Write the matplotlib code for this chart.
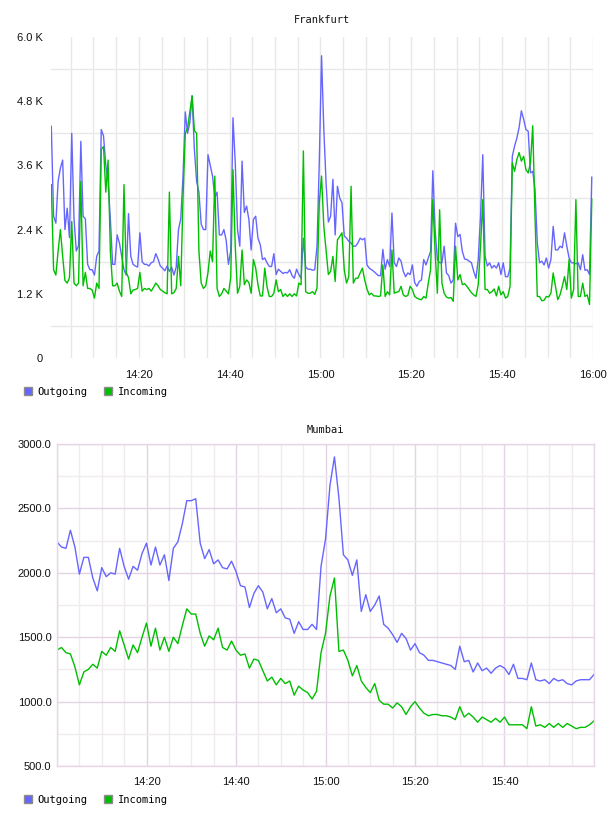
import matplotlib
matplotlib.use("Agg")
import matplotlib.pyplot as plt
import matplotlib.dates as mdates
from matplotlib.patches import Patch
from matplotlib.ticker import FixedLocator, FuncFormatter
import pandas as pd

# ---------------- data ----------------
frankfurt_title = "Frankfurt"
mumbai_title = "Mumbai"
series_names = ["Outgoing", "Incoming"]

# Frankfurt, values in thousands, 30 s samples from 14:00:44
frankfurt_outgoing = [
    4.33, 2.65, 2.52, 3.3, 3.55, 3.7, 2.4, 2.8, 2.25, 4.2,
    2.6, 2.0, 2.1, 4.05, 2.65, 2.6, 1.75, 1.65, 1.65, 1.55,
    1.9, 2.0, 4.27, 4.15, 3.6, 3.3, 2.6, 1.75, 1.75, 2.3,
    2.15, 1.9, 1.65, 1.55, 2.7, 1.9, 1.75, 1.72, 1.7, 2.34,
    1.8, 1.75, 1.75, 1.72, 1.78, 1.8, 1.95, 1.85, 1.72, 1.68,
    1.63, 1.72, 1.62, 1.7, 1.55, 1.7, 2.4, 2.6, 3.4, 4.6,
    4.2, 4.4, 4.9, 3.9, 3.3, 3.1, 2.5, 2.4, 2.4, 3.8,
    3.6, 3.4, 3.0, 3.1, 2.3, 2.3, 2.4, 2.2, 1.75, 2.0,
    4.49, 3.65, 2.4, 2.09, 3.68, 2.72, 2.84, 2.59, 2.02, 2.59,
    2.65, 2.24, 2.12, 1.84, 1.87, 1.78, 1.71, 1.71, 1.95, 1.56,
    1.66, 1.62, 1.58, 1.6, 1.59, 1.65, 1.54, 1.49, 1.66, 1.56,
    1.49, 2.24, 1.7, 1.66, 1.66, 1.64, 1.65, 2.09, 3.65, 5.65,
    4.27, 3.27, 2.54, 2.65, 3.34, 2.3, 3.21, 2.99, 2.9, 2.28,
    2.24, 2.18, 2.15, 2.09, 2.09, 2.15, 2.24, 2.21, 2.24, 1.74,
    1.68, 1.65, 1.62, 1.58, 1.54, 1.54, 2.03, 1.66, 1.84, 1.71,
    2.71, 1.78, 1.71, 1.87, 1.81, 1.62, 1.52, 1.59, 1.56, 1.74,
    1.41, 1.34, 1.43, 1.46, 1.84, 1.74, 1.87, 1.99, 3.5, 2.4,
    1.84, 1.78, 1.78, 2.09, 1.59, 1.54, 1.4, 1.46, 2.52, 2.27,
    2.31, 1.99, 1.85, 1.84, 1.81, 1.78, 1.62, 1.49, 1.84, 2.65,
    3.8, 1.9, 1.72, 1.78, 1.68, 1.73, 1.68, 1.78, 1.56, 1.78,
    1.52, 1.52, 1.68, 3.77, 3.96, 4.11, 4.31, 4.62, 4.46, 4.27,
    4.24, 3.46, 3.49, 3.15, 2.15, 1.78, 1.81, 1.74, 1.87, 1.68,
    1.84, 2.46, 2.02, 2.02, 2.09, 2.06, 2.34, 2.09, 1.87, 1.78,
    1.78, 1.76, 1.78, 1.65, 1.93, 1.64, 1.65, 1.56, 3.38,
]
frankfurt_incoming = [
    3.24, 1.65, 1.55, 2.0, 2.4, 1.9, 1.45, 1.4, 1.5, 2.55,
    1.4, 1.35, 1.4, 3.3, 1.35, 1.6, 1.3, 1.3, 1.27, 1.12,
    1.4, 1.3, 3.9, 3.95, 3.1, 3.7, 2.0, 1.35, 1.35, 1.4,
    1.25, 1.15, 3.24, 1.6, 1.5, 1.2, 1.27, 1.28, 1.3, 1.6,
    1.25, 1.3, 1.28, 1.3, 1.25, 1.32, 1.4, 1.35, 1.28, 1.25,
    1.22, 1.2, 3.1, 1.2, 1.22, 1.3, 1.9, 1.35, 3.0, 4.2,
    4.3, 4.6, 4.9, 4.25, 4.2, 2.0, 1.4, 1.3, 1.35, 1.6,
    2.0, 1.8, 3.4, 1.3, 1.15, 1.2, 1.3, 1.25, 1.2, 1.5,
    3.52, 2.09, 1.21, 1.34, 2.02, 1.37, 1.46, 1.41, 1.21, 1.84,
    1.68, 1.37, 1.16, 1.16, 1.68, 1.33, 1.15, 1.15, 1.21, 1.46,
    1.24, 1.28, 1.15, 1.2, 1.15, 1.2, 1.15, 1.2, 1.16, 1.4,
    1.37, 3.87, 1.24, 1.21, 1.21, 1.24, 1.19, 1.31, 2.9, 3.4,
    2.46, 2.02, 1.56, 1.62, 1.9, 1.43, 2.21, 2.27, 2.34, 1.65,
    1.4, 1.52, 3.21, 1.4, 1.49, 1.49, 1.59, 1.68, 1.46, 1.29,
    1.18, 1.21, 1.16, 1.16, 1.15, 1.16, 1.74, 1.15, 1.24, 1.18,
    2.02, 1.21, 1.23, 1.24, 1.34, 1.18, 1.15, 1.17, 1.34, 1.28,
    1.15, 1.12, 1.1, 1.09, 1.15, 1.12, 1.4, 1.65, 2.96, 2.0,
    1.21, 2.77, 1.4, 1.21, 1.14, 1.12, 1.13, 1.06, 2.09, 1.46,
    1.56, 1.37, 1.39, 1.34, 1.28, 1.22, 1.18, 1.15, 1.37, 2.09,
    2.96, 1.28, 1.28, 1.21, 1.24, 1.29, 1.16, 1.34, 1.18, 1.24,
    1.12, 1.15, 1.34, 3.65, 3.49, 3.71, 3.84, 3.68, 3.77, 3.52,
    3.46, 3.65, 4.34, 2.65, 1.15, 1.15, 1.07, 1.08, 1.15, 1.14,
    1.21, 1.59, 1.34, 1.09, 1.18, 1.34, 1.52, 1.28, 1.84, 1.12,
    1.28, 2.96, 1.15, 1.15, 1.4, 1.15, 1.18, 1.0, 2.97,
]

# Mumbai, 1 min samples from 14:00
mumbai_outgoing = [
    2240, 2200, 2190, 2330, 2200, 1990, 2120, 2120, 1960, 1860,
    2040, 1970, 2000, 1990, 2190, 2050, 1950, 2050, 2020, 2150,
    2230, 2060, 2200, 2060, 2140, 1940, 2190, 2240, 2380, 2560,
    2560, 2575, 2230, 2110, 2180, 2070, 2100, 2040, 2030, 2090,
    2010, 1900, 1890, 1730, 1840, 1900, 1850, 1720, 1800, 1690,
    1720, 1650, 1640, 1530, 1620, 1560, 1560, 1600, 1560, 2050,
    2260, 2680, 2900, 2580, 2140, 2100, 1980, 2100, 1700, 1830,
    1700, 1750, 1820, 1600, 1570, 1520, 1460, 1530, 1490, 1400,
    1450, 1380, 1360, 1320, 1320, 1310, 1300, 1290, 1280, 1250,
    1430, 1310, 1320, 1230, 1300, 1240, 1260, 1220, 1260, 1280,
    1260, 1210, 1290, 1180, 1180, 1170, 1300, 1170, 1160, 1170,
    1140, 1180, 1160, 1170, 1140, 1130, 1160, 1170, 1170, 1170,
    1210,
]
mumbai_incoming = [
    1400, 1420, 1380, 1370, 1270, 1130, 1230, 1250, 1290, 1260,
    1390, 1360, 1420, 1390, 1550, 1440, 1330, 1440, 1380, 1500,
    1610, 1430, 1570, 1400, 1500, 1390, 1500, 1450, 1590, 1720,
    1680, 1680, 1530, 1430, 1510, 1480, 1570, 1420, 1400, 1470,
    1400, 1360, 1370, 1260, 1330, 1320, 1240, 1160, 1190, 1130,
    1180, 1140, 1160, 1050, 1120, 1090, 1070, 1020, 1080, 1380,
    1530, 1820, 1960, 1390, 1400, 1320, 1200, 1280, 1160, 1110,
    1070, 1140, 1010, 980, 980, 950, 990, 960, 900, 960,
    1000, 950, 910, 890, 900, 900, 890, 890, 880, 860,
    960, 880, 910, 880, 840, 880, 860, 840, 870, 840,
    880, 820, 820, 820, 820, 790, 960, 810, 820, 800,
    830, 800, 830, 800, 830, 810, 790, 800, 800, 820,
    850,
]

frankfurt_yticks = [0, 1.2, 2.4, 3.6, 4.8, 6.0]
frankfurt_ygrid = [0.6, 1.8, 3.0, 4.2, 5.4]
mumbai_yticks = [500, 1000, 1500, 2000, 2500, 3000]
mumbai_yminor = [750, 1250, 1750, 2250, 2750]
time_labels_top = ["14:20", "14:40", "15:00", "15:20", "15:40", "16:00"]
time_labels_bottom = ["14:20", "14:40", "15:00", "15:20", "15:40"]

# ---------------- style ----------------
OUT_C = "#6666ff"
IN_C = "#00bf00"
MONO = "DejaVu Sans Mono"
SANS = "Liberation Sans"
W, H = 608, 816

fig = plt.figure(figsize=(W / 100, H / 100), dpi=100)

day = "2024-01-01 "
t_top = pd.date_range(day + "14:00:44", periods=len(frankfurt_outgoing), freq="30s")
t_bot = pd.date_range(day + "14:00:00", periods=len(mumbai_outgoing), freq="60s")


def box(l, t, r, b):
    return [l / W, 1 - b / H, (r - l) / W, (b - t) / H]


def legend(y):
    handles = [Patch(facecolor=OUT_C, edgecolor="#8c8c8c", linewidth=1),
               Patch(facecolor=IN_C, edgecolor="#8c8c8c", linewidth=1)]
    fig.legend(handles, series_names, loc="center left",
               bbox_to_anchor=(24 / W, 1 - y / H), ncol=2, frameon=False,
               prop={"family": MONO, "size": 7.5}, handlelength=0.75,
               handleheight=0.8, handletextpad=0.55, columnspacing=1.6,
               borderpad=0, borderaxespad=0)


# ---------------- Frankfurt ----------------
ax1 = fig.add_axes(box(51, 37, 593, 358))
ax1.plot(t_top, frankfurt_outgoing, color=OUT_C, lw=1.0)
ax1.plot(t_top, frankfurt_incoming, color=IN_C, lw=1.0)
ax1.set_xlim(pd.Timestamp(day + "14:00:40"), pd.Timestamp(day + "16:00:00"))
ax1.set_ylim(0, 6.0)
for s in ax1.spines.values():
    s.set_visible(False)
ax1.yaxis.set_major_locator(FixedLocator(frankfurt_yticks))
ax1.yaxis.set_major_formatter(FuncFormatter(lambda v, p: "0" if v == 0 else f"{v:.1f} K"))
ax1.yaxis.set_minor_locator(FixedLocator(frankfurt_ygrid))
top_major = [pd.Timestamp(day + s) for s in time_labels_top]
ax1.set_xticks(top_major)
ax1.set_xticklabels(time_labels_top)
ax1.xaxis.set_minor_locator(mdates.MinuteLocator(byminute=range(0, 60, 5)))
ax1.grid(True, which="both", axis="x", color="#e8e8e8", lw=1)
ax1.grid(True, which="minor", axis="y", color="#e8e8e8", lw=1)
ax1.grid(False, which="major", axis="y")
ax1.set_axisbelow(True)
ax1.tick_params(which="both", length=0)
ax1.tick_params(axis="y", pad=6)
ax1.tick_params(axis="x", pad=9)
for lab in ax1.get_xticklabels() + ax1.get_yticklabels():
    lab.set_fontfamily(SANS)
    lab.set_fontsize(8)
    lab.set_color("#111111")
fig.text(322 / W, 1 - 20 / H, frankfurt_title, ha="center", va="center",
         family=MONO, fontsize=7.5, color="#111111")
legend(392)

# ---------------- Mumbai ----------------
ax2 = fig.add_axes(box(57, 444, 594, 766))
ax2.plot(t_bot, mumbai_outgoing, color=OUT_C, lw=1.0)
ax2.plot(t_bot, mumbai_incoming, color=IN_C, lw=1.0)
ax2.set_xlim(pd.Timestamp(day + "14:00:00"), pd.Timestamp(day + "16:00:00"))
ax2.set_ylim(500, 3000)
for s in ax2.spines.values():
    s.set_color("#e6d6e6")
    s.set_linewidth(1)
ax2.yaxis.set_major_locator(FixedLocator(mumbai_yticks))
ax2.yaxis.set_minor_locator(FixedLocator(mumbai_yminor))
ax2.yaxis.set_major_formatter(FuncFormatter(lambda v, p: f"{v:.1f}"))
bot_major = [pd.Timestamp(day + s) for s in time_labels_bottom]
ax2.set_xticks(bot_major)
ax2.set_xticklabels(time_labels_bottom)
ax2.xaxis.set_minor_locator(mdates.MinuteLocator(byminute=range(0, 60, 5)))
ax2.grid(True, which="major", color="#e3d3e3", lw=1)
ax2.grid(True, which="minor", color="#efebef", lw=1)
ax2.set_axisbelow(True)
ax2.tick_params(which="both", length=0)
ax2.tick_params(axis="y", pad=4)
ax2.tick_params(axis="x", pad=8)
for lab in ax2.get_xticklabels() + ax2.get_yticklabels():
    lab.set_fontfamily(SANS)
    lab.set_fontsize(8)
    lab.set_color("#111111")
fig.text(325 / W, 1 - 430 / H, mumbai_title, ha="center", va="center",
         family=MONO, fontsize=7.5, color="#111111")
legend(800)

fig.savefig("out.png", dpi=100, facecolor="white")
